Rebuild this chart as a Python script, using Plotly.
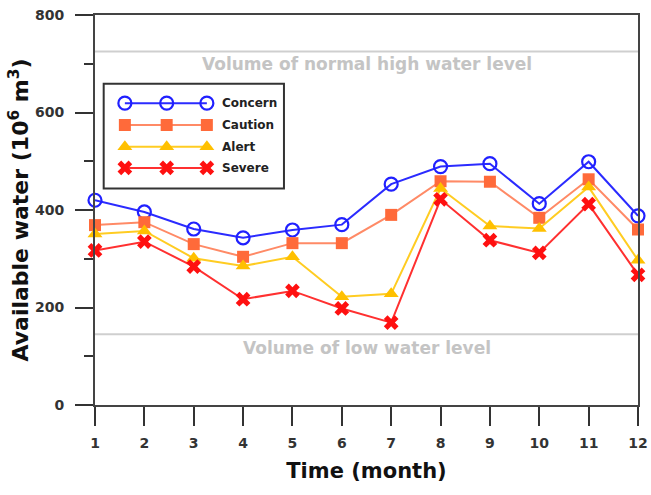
import plotly.graph_objects as go

months = list(range(1, 13))
concern = [420, 396, 361, 343, 359, 370, 453, 489, 495, 413, 499, 388]
caution = [369, 375, 330, 304, 332, 332, 390, 459, 458, 384, 463, 360]
alert = [351, 357, 301, 285, 304, 222, 228, 444, 367, 362, 447, 297]
severe = [317, 335, 284, 217, 234, 198, 169, 422, 338, 312, 412, 267]
series_names = ["Concern", "Caution", "Alert", "Severe"]
high_level = 725
low_level = 145
high_label = "Volume of normal high water level"
low_label = "Volume of low water level"

styles = {
    "Concern": dict(line="#2b2bff", marker=dict(symbol="circle-open", size=13, color="#2020ff", line=dict(width=2.2, color="#2020ff"))),
    "Caution": dict(line="#ff8a66", marker=dict(symbol="square", size=12, color="#ff6a3a", line=dict(width=0))),
    "Alert": dict(line="#ffcc22", marker=dict(symbol="triangle-up", size=13, color="#ffc000", line=dict(width=0))),
    "Severe": dict(line="#ff3030", marker=dict(symbol="x", size=13, color="#ff1010", line=dict(width=0))),
}

font_family = "DejaVu Sans, sans-serif"
fig = go.Figure()

for name, vals in zip(series_names, [concern, caution, alert, severe]):
    st = styles[name]
    fig.add_trace(go.Scatter(x=months, y=vals, mode="lines+markers", name=name,
                             line=dict(color=st["line"], width=2),
                             marker=st["marker"], showlegend=False, cliponaxis=False))

# reference levels
fig.add_shape(type="line", xref="paper", x0=0, x1=1, yref="y", y0=high_level, y1=high_level,
              line=dict(color="#cfcfcf", width=2), layer="below")
fig.add_shape(type="line", xref="paper", x0=0, x1=1, yref="y", y0=low_level, y1=low_level,
              line=dict(color="#cfcfcf", width=2), layer="below")
fig.add_annotation(x=0.5, xref="paper", y=high_level, yref="y", yshift=-12, yanchor="middle",
                   text="<b>" + high_label + "</b>",
                   showarrow=False, font=dict(family=font_family, size=17, color="#c4c4c4"))
fig.add_annotation(x=0.5, xref="paper", y=low_level, yref="y", yshift=-14, yanchor="middle",
                   text="<b>" + low_label + "</b>",
                   showarrow=False, font=dict(family=font_family, size=17, color="#c4c4c4"))

# custom legend box
leg_x0, leg_x1, leg_y0, leg_y1 = 0.016, 0.348, 0.555, 0.824
fig.add_shape(type="rect", xref="paper", yref="paper", x0=leg_x0, x1=leg_x1, y0=leg_y0, y1=leg_y1,
              line=dict(color="#333333", width=2), fillcolor="white", layer="below")
leg_marker_x = [0.055, 0.132, 0.206]
leg_row_y = [0.774, 0.718, 0.662, 0.608]
for i, name in enumerate(series_names):
    st = styles[name]
    fig.add_trace(go.Scatter(x=leg_marker_x, y=[leg_row_y[i]] * 3, xaxis="x2", yaxis="y2",
                             mode="lines+markers", line=dict(color=st["line"], width=2),
                             marker=st["marker"], showlegend=False, hoverinfo="skip"))
    fig.add_annotation(x=0.23, y=leg_row_y[i], xref="paper", yref="paper", xanchor="left", yanchor="middle",
                       text="<b>" + name + "</b>", showarrow=False,
                       font=dict(family=font_family, size=12, color="#222222"))

axis_font = dict(family=font_family, size=14, color="#333333")
fig.update_layout(
    width=651, height=495,
    margin=dict(l=95, r=13, t=15, b=90),
    plot_bgcolor="white", paper_bgcolor="white",
    xaxis=dict(range=[1, 12], tickmode="array", tickvals=months,
               ticktext=["<b>%d</b>" % m for m in months],
               ticks="outside", ticklen=19, tickwidth=2, tickcolor="#333333",
               showline=True, linecolor="#444444", linewidth=2, mirror=True, automargin=False,
               showgrid=False, zeroline=False, tickfont=axis_font, ticklabelstandoff=5,
               ticklabeloverflow="allow",
               title=dict(text="<b>Time (month)</b>", font=dict(family=font_family, size=21, color="#111111"), standoff=14)),
    yaxis=dict(range=[0, 800], tickmode="array", tickvals=[0, 200, 400, 600, 800],
               ticktext=["<b>0</b>", "<b>200</b>", "<b>400</b>", "<b>600</b>", "<b>800</b>"],
               ticks="outside", ticklen=18, tickwidth=2, tickcolor="#333333",
               minor=dict(tickvals=[100, 300, 500, 700], ticks="outside", ticklen=9, tickwidth=2, tickcolor="#333333"),
               showline=True, linecolor="#444444", linewidth=2, mirror=True, automargin=False,
               showgrid=False, zeroline=False, tickfont=axis_font, ticklabelstandoff=8,
               ticklabeloverflow="allow",
               title=dict(text="<b>Available water (10<sup>6</sup> m<sup>3</sup>)</b>", font=dict(family=font_family, size=22, color="#111111"), standoff=0)),
    xaxis2=dict(overlaying="x", range=[0, 1], visible=False, fixedrange=True),
    yaxis2=dict(overlaying="y", range=[0, 1], visible=False, fixedrange=True),
)

fig.write_html("out.html", config={"displayModeBar": False},
               post_script="document.body.style.margin='0px';document.body.style.overflow='hidden';")
